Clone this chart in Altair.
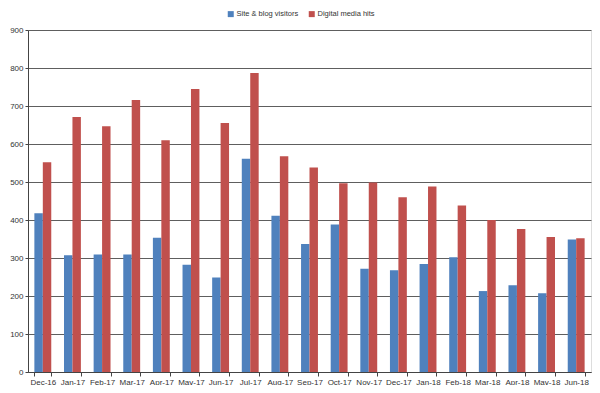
import altair as alt
import pandas as pd

months = ["Dec-16", "Jan-17", "Feb-17", "Mar-17", "Apr-17", "May-17", "Jun-17",
          "Jul-17", "Aug-17", "Sep-17", "Oct-17", "Nov-17", "Dec-17", "Jan-18",
          "Feb-18", "Mar-18", "Apr-18", "May-18", "Jun-18"]
visitors = [418, 307, 309, 309, 353, 282, 249, 561, 411, 337, 388, 272, 268,
            284, 302, 213, 228, 207, 349]
hits = [552, 671, 647, 716, 610, 745, 655, 787, 568, 538, 497, 499, 460,
        488, 438, 400, 376, 355, 352]
series = ["Site & blog visitors", "Digital media hits"]
colors = ["#4F81BD", "#C0504D"]
y_ticks = list(range(0, 1000, 100))

rows = []
for m, v, h in zip(months, visitors, hits):
    rows.append({"month": m, "series": series[0], "value": v})
    rows.append({"month": m, "series": series[1], "value": h})
df = pd.DataFrame(rows)

FONT = "Liberation Sans"

chart = alt.Chart(df).mark_bar().encode(
    x=alt.X("month:N", sort=months, title=None,
            scale=alt.Scale(paddingInner=0.43, paddingOuter=0.215),
            axis=alt.Axis(labelAngle=0, tickBand="extent", tickSize=4,
                          labelPadding=2, domainColor="#444444",
                          tickColor="#444444", labelFont=FONT, labelFontSize=8,
                          labelColor="#333333", grid=False)),
    xOffset=alt.XOffset("series:N", sort=series,
                        scale=alt.Scale(paddingInner=0, paddingOuter=0)),
    y=alt.Y("value:Q", title=None, scale=alt.Scale(domain=[0, 900]),
            axis=alt.Axis(values=y_ticks, tickSize=3, labelPadding=2,
                          domainColor="#444444", tickColor="#444444",
                          gridColor="#5e5e5e", gridWidth=1,
                          labelFont=FONT, labelFontSize=8, labelColor="#333333")),
    color=alt.Color("series:N", sort=series,
                    scale=alt.Scale(domain=series, range=colors),
                    legend=alt.Legend(orient="none", legendX=199, legendY=-20,
                                      direction="horizontal", title=None,
                                      symbolType="square", symbolSize=36,
                                      symbolStrokeWidth=0,
                                      labelFont=FONT, labelFontSize=7.5,
                                      labelColor="#333333", columnPadding=9,
                                      labelOffset=2)),
).properties(
    width=563, height=342,
    autosize=alt.AutoSizeParams(type="none"),
    padding={"left": 20, "top": 22, "right": 1, "bottom": 13},
).configure_view(stroke=None).configure(background="white")

chart.save("out.html", embed_options={"renderer": "svg", "actions": False})
